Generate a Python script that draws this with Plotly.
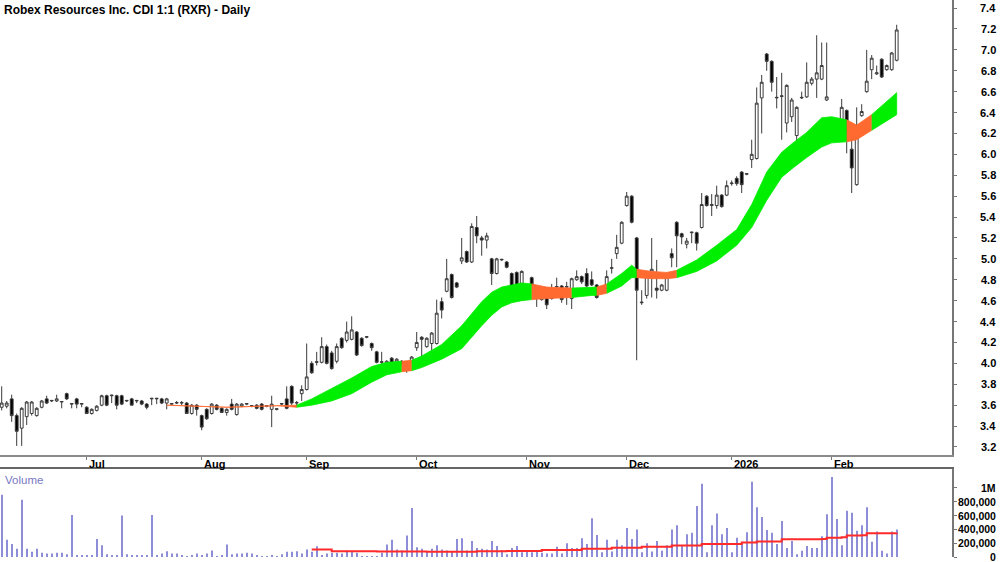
import pandas as pd
import plotly.graph_objects as go

title_text = "Robex Resources Inc. CDI 1:1 (RXR) - Daily"

# trading sessions shown (exchange holidays and one session without a bar skipped)
skipped_days = ["2025-06-09", "2025-10-20", "2025-12-25", "2025-12-26", "2026-01-01", "2026-01-26"]
dates = [d.strftime("%Y-%m-%d") for d in pd.bdate_range("2025-06-05", "2026-02-19")
         if d.strftime("%Y-%m-%d") not in skipped_days]

opens = [3.58,3.59,3.66,3.50,3.38,3.49,3.52,3.50,3.58,3.66,
         3.64,3.64,3.63,3.71,3.61,3.66,3.61,3.58,3.52,3.55,
         3.60,3.69,3.69,3.69,3.69,3.64,3.66,3.64,3.64,3.61,
         3.66,3.66,3.66,3.62,3.61,3.62,3.62,3.62,3.52,3.60,
         3.50,3.56,3.52,3.60,3.57,3.53,3.61,3.51,3.59,3.61,
         3.59,3.60,3.61,3.59,3.56,3.56,3.61,3.66,3.78,3.62,
         3.71,3.75,4.00,4.01,4.01,4.16,4.10,4.02,4.24,4.22,
         4.23,4.30,4.24,4.25,4.19,4.11,4.01,4.00,4.05,4.01,
         4.02,4.00,4.01,4.15,4.25,4.16,4.19,4.19,4.59,4.69,
         4.85,4.77,4.98,5.07,4.97,5.30,5.20,5.18,5.00,4.86,
         4.99,4.97,4.86,4.87,4.75,4.73,4.82,4.63,4.61,4.72,
         4.62,4.73,4.74,4.73,4.62,4.80,4.83,4.86,4.80,4.75,
         4.73,4.72,4.91,5.05,5.15,5.51,5.60,5.20,4.58,4.65,
         4.86,4.72,4.70,4.70,5.05,5.35,5.24,5.14,5.25,5.25,
         5.30,5.60,5.51,5.51,5.61,5.61,5.72,5.77,5.83,5.81,
         5.95,5.96,6.54,6.96,6.89,6.54,6.56,6.30,6.36,6.18,
         6.54,6.55,6.68,6.72,6.72,6.52,6.22,6.22,6.27,6.42,
         6.05,5.71,6.37,6.60,6.81,6.77,6.91,6.81,6.81,6.90]
highs = [3.78,3.64,3.70,3.52,3.58,3.64,3.64,3.58,3.65,3.69,
         3.65,3.70,3.64,3.72,3.62,3.67,3.62,3.59,3.57,3.60,
         3.70,3.70,3.70,3.70,3.70,3.65,3.67,3.65,3.65,3.62,
         3.67,3.67,3.67,3.67,3.62,3.64,3.64,3.63,3.61,3.61,
         3.51,3.57,3.62,3.61,3.58,3.57,3.66,3.62,3.62,3.62,
         3.60,3.61,3.62,3.60,3.69,3.57,3.62,3.78,3.79,3.64,
         3.79,4.19,4.02,4.11,4.25,4.18,4.12,4.19,4.25,4.40,
         4.45,4.31,4.25,4.26,4.20,4.12,4.11,4.03,4.06,4.05,
         4.03,4.01,4.07,4.30,4.26,4.25,4.30,4.61,4.63,5.00,
         4.86,4.78,5.20,5.08,5.34,5.41,5.22,5.25,5.01,5.01,
         5.00,4.98,4.87,4.88,4.89,4.76,4.83,4.64,4.66,4.73,
         4.76,4.82,4.75,4.78,4.82,4.89,4.84,4.91,4.88,4.76,
         4.74,4.89,5.00,5.23,5.36,5.64,5.61,5.21,4.70,4.86,
         5.20,4.99,4.76,4.87,5.10,5.36,5.25,5.20,5.26,5.26,
         5.63,5.61,5.62,5.70,5.62,5.75,5.75,5.79,5.84,5.82,
         6.14,6.64,6.76,6.97,6.90,6.74,6.78,6.67,6.54,6.46,
         6.60,6.88,6.74,7.14,7.07,7.07,6.28,6.32,6.53,6.43,
         6.20,6.45,6.48,7.00,6.95,6.85,6.92,6.86,6.98,7.24]
lows = [3.55,3.57,3.44,3.21,3.21,3.41,3.50,3.49,3.57,3.61,
        3.63,3.63,3.57,3.65,3.57,3.57,3.58,3.52,3.51,3.54,
        3.59,3.59,3.62,3.56,3.60,3.63,3.60,3.62,3.60,3.56,
        3.60,3.61,3.61,3.56,3.60,3.61,3.60,3.52,3.51,3.50,
        3.36,3.46,3.51,3.55,3.53,3.50,3.55,3.50,3.58,3.60,
        3.58,3.56,3.55,3.58,3.39,3.55,3.60,3.56,3.60,3.59,
        3.64,3.74,3.90,3.98,4.00,3.99,3.94,4.00,4.14,4.20,
        4.22,4.07,4.16,4.24,4.12,4.00,3.91,3.99,3.99,4.00,
        3.98,3.91,4.00,4.12,4.05,4.15,4.03,4.18,4.43,4.68,
        4.62,4.72,4.95,4.96,4.96,5.15,5.03,5.10,4.75,4.85,
        4.98,4.91,4.67,4.62,4.74,4.72,4.74,4.54,4.60,4.52,
        4.61,4.72,4.58,4.56,4.52,4.79,4.76,4.73,4.74,4.62,
        4.69,4.71,4.86,5.00,5.14,5.50,5.34,4.03,4.56,4.62,
        4.63,4.62,4.69,4.69,4.92,4.92,5.14,5.10,5.15,5.08,
        5.29,5.50,5.41,5.48,5.49,5.60,5.70,5.70,5.63,5.80,
        5.87,5.95,6.20,6.80,6.60,6.44,6.14,6.21,6.31,6.07,
        6.53,6.54,6.66,6.54,6.71,6.51,6.14,6.15,6.26,6.01,
        5.63,5.70,6.36,6.59,6.72,6.76,6.73,6.80,6.80,6.89]
closes = [3.62,3.62,3.50,3.35,3.57,3.63,3.63,3.57,3.64,3.62,
          3.645,3.66,3.635,3.66,3.615,3.61,3.615,3.52,3.56,3.59,
          3.69,3.60,3.695,3.60,3.61,3.645,3.60,3.645,3.61,3.58,
          3.665,3.665,3.62,3.66,3.615,3.625,3.625,3.52,3.60,3.56,
          3.39,3.47,3.61,3.56,3.53,3.56,3.56,3.61,3.61,3.615,
          3.595,3.57,3.56,3.595,3.61,3.565,3.615,3.57,3.62,3.625,
          3.75,3.87,3.91,4.015,4.16,4.00,3.95,4.16,4.15,4.30,
          4.32,4.08,4.17,4.255,4.15,4.01,4.015,4.02,4.00,4.04,
          3.99,3.94,4.06,4.20,4.23,4.24,4.29,4.48,4.51,4.81,
          4.63,4.73,5.01,4.97,5.31,5.22,5.18,5.22,4.86,5.00,
          4.995,4.92,4.68,4.70,4.88,4.75,4.75,4.635,4.65,4.56,
          4.64,4.735,4.61,4.735,4.81,4.83,4.78,4.74,4.75,4.63,
          4.70,4.83,4.915,5.11,5.35,5.60,5.35,4.70,4.585,4.85,
          4.90,4.70,4.75,4.86,5.01,5.22,5.21,5.17,5.255,5.15,
          5.52,5.51,5.52,5.61,5.50,5.70,5.725,5.72,5.71,5.815,
          6.00,6.49,6.69,6.89,6.69,6.545,6.555,6.66,6.52,6.45,
          6.545,6.69,6.72,6.78,6.85,6.55,6.215,6.215,6.45,6.21,
          5.87,6.26,6.41,6.70,6.92,6.78,6.74,6.85,6.97,7.19]
volumes = [900000,250000,190000,120000,830000,120000,75000,120000,60000,50000,
           50000,60000,60000,40000,610000,30000,30000,30000,30000,260000,
           170000,40000,30000,30000,600000,40000,30000,30000,30000,30000,
           610000,30000,50000,85000,50000,50000,30000,15000,30000,50000,
           30000,50000,95000,15000,30000,180000,40000,50000,50000,60000,
           50000,30000,10000,15000,30000,5000,40000,75000,75000,85000,
           50000,110000,75000,155000,30000,50000,60000,60000,50000,95000,
           75000,60000,15000,5000,15000,15000,60000,180000,250000,110000,
           95000,310000,710000,140000,120000,75000,120000,170000,110000,95000,
           85000,260000,270000,95000,230000,130000,120000,110000,230000,160000,
           100000,40000,130000,160000,70000,80000,70000,80000,60000,50000,
           50000,150000,50000,200000,130000,130000,270000,190000,560000,320000,
           70000,250000,80000,250000,170000,420000,260000,400000,70000,200000,
           80000,230000,90000,170000,400000,460000,170000,330000,350000,740000,
           1060000,70000,460000,630000,330000,420000,70000,280000,210000,360000,
           1090000,720000,580000,390000,350000,190000,520000,130000,230000,40000,
           90000,160000,130000,130000,300000,620000,1160000,550000,170000,670000,
           640000,380000,460000,720000,220000,370000,90000,50000,370000,400000]

# Indicator band (upper / lower edges) read at sample sessions; trend colours the segment that starts there
band_idx = [33,45,55,59,62,66,70,74,77,80,82,84,88,92,96,98,100,102,104,106,109,114,118,119,121,
            124,126,127,130,133,135,139,143,147,150,153,156,158,161,164,166,169,171,174,179]
band_upper = [3.60,3.58,3.595,3.60,3.66,3.76,3.86,3.97,4.01,4.02,4.03,4.07,4.18,4.36,4.59,4.68,4.73,4.75,4.77,4.76,
              4.73,4.72,4.73,4.73,4.76,4.86,4.94,4.90,4.88,4.87,4.89,4.99,5.13,5.28,5.52,5.83,6.02,6.10,6.21,
              6.35,6.36,6.33,6.28,6.38,6.59]
band_lower = [3.60,3.58,3.595,3.58,3.60,3.64,3.71,3.82,3.89,3.92,3.93,3.96,4.04,4.14,4.36,4.46,4.54,4.58,4.60,4.61,
              4.62,4.63,4.65,4.65,4.67,4.74,4.82,4.82,4.81,4.81,4.82,4.88,4.98,5.13,5.30,5.56,5.78,5.86,5.97,
              6.07,6.11,6.12,6.14,6.23,6.38]
band_trend = ["dn","dn","dn","up","up","up","up","up","up","dn","up","up","up","up","up","up","up","up","up","dn",
              "dn","up","up","dn","up","up","up","dn","dn","dn","up","up","up","up","up","up","up","up","up",
              "up","up","dn","dn","up","up"]

vol_ma_idx = [62, 66, 75, 85, 95, 101, 108, 116, 122, 128, 134, 140, 148, 151, 156, 164, 165, 168, 169, 172, 173, 179]
vol_ma = [110000, 85000, 80000, 75000, 85000, 88000, 100000, 118000, 135000, 150000, 165000, 190000,
          210000, 225000, 258000, 262000, 280000, 285000, 310000, 315000, 345000, 350000]

month_tick_dates = ["2025-07-01", "2025-08-01", "2025-09-01", "2025-10-01", "2025-11-03",
                    "2025-12-01", "2026-01-02", "2026-02-02"]
month_tick_labels = ["Jul", "Aug", "Sep", "Oct", "Nov", "Dec", "2026", "Feb"]

price_ticks = [3.2, 3.4, 3.6, 3.8, 4.0, 4.2, 4.4, 4.6, 4.8, 5.0, 5.2, 5.4, 5.6, 5.8,
               6.0, 6.2, 6.4, 6.6, 6.8, 7.0, 7.2, 7.4]
vol_ticks = [0, 200000, 400000, 600000, 800000, 1000000]
vol_tick_labels = ["0", "200,000", "400,000", "600,000", "800,000", "1M"]

GREEN = "#00ee00"
ORANGE = "#ff6a30"
FONT = "Liberation Sans, Arial, sans-serif"
PLOT_W = 952.0          # plot area width in px (right margin holds the axis labels)
LABEL_RIGHT = 998.0     # right edge of axis labels in px

fig = go.Figure()

# band polygons
runs = []
start = 0
for i in range(1, len(band_idx)):
    if band_trend[i] != band_trend[start] or i == len(band_idx) - 1:
        runs.append((start, i, band_trend[start]))
        start = i
for s, e, tr in runs:
    xs = [dates[band_idx[j]] for j in range(s, e + 1)]
    up = band_upper[s:e + 1]
    lo = band_lower[s:e + 1]
    col = GREEN if tr == "up" else ORANGE
    fig.add_trace(go.Scatter(x=xs + xs[::-1], y=up + lo[::-1], mode="lines", fill="toself",
                             fillcolor=col, line=dict(color=col, width=0.8),
                             xaxis="x", yaxis="y", hoverinfo="skip", showlegend=False))

fig.add_trace(go.Candlestick(
    x=dates, open=opens, high=highs, low=lows, close=closes,
    increasing=dict(fillcolor="white", line=dict(color="#3a3a3a", width=1)),
    decreasing=dict(fillcolor="black", line=dict(color="#3a3a3a", width=1)),
    whiskerwidth=0, xaxis="x", yaxis="y", showlegend=False))

fig.add_trace(go.Bar(x=dates, y=volumes, width=0.24, marker=dict(color="#8e8ed8", line=dict(width=0)),
                     xaxis="x2", yaxis="y2", showlegend=False))
fig.add_trace(go.Scatter(x=[dates[i] for i in vol_ma_idx], y=vol_ma, mode="lines", line_shape="hv",
                         line=dict(color="#ff2a2a", width=2), xaxis="x2", yaxis="y2", showlegend=False))

ann = [dict(text="<b>" + title_text + "</b>", xref="paper", yref="paper", x=0.002, y=1.0,
            xanchor="left", yanchor="top", yshift=-1, showarrow=False,
            font=dict(family=FONT, size=12, color="black")),
       dict(text="Volume", xref="paper", yref="paper", x=0.003, y=0.158, xanchor="left",
            yanchor="top", yshift=-3, showarrow=False, font=dict(family=FONT, size=11.5, color="#7878c4"))]
for v, t in zip(vol_ticks, vol_tick_labels):
    ann.append(dict(text="<b>" + t + "</b>", xref="paper", yref="y2", x=LABEL_RIGHT / PLOT_W, y=v,
                    xanchor="right", yanchor="middle", showarrow=False,
                    font=dict(family=FONT, size=10.5, color="black")))
for v in price_ticks:
    ann.append(dict(text="<b>%.1f</b>" % v, xref="paper", yref="y", x=LABEL_RIGHT / PLOT_W, y=v,
                    xanchor="right", yanchor="middle", showarrow=False,
                    font=dict(family=FONT, size=11, color="black")))
for d, t in zip(month_tick_dates, month_tick_labels):
    ann.append(dict(text="<b>" + t + "</b>", xref="x", yref="paper", x=d, y=0.1831,
                    xanchor="left", yanchor="top", xshift=0, yshift=-1, showarrow=False,
                    font=dict(family=FONT, size=11, color="black")))

fig.update_layout(
    width=1000, height=562, margin=dict(l=0, r=48, t=0, b=5),
    paper_bgcolor="white", plot_bgcolor="white", boxgap=0.2,
    showlegend=False, annotations=ann,
    xaxis=dict(domain=[0, 1], anchor="y", type="category", categoryorder="array", categoryarray=dates,
               range=[-0.34, 190.06], tickmode="array", tickvals=month_tick_dates,
               showticklabels=False, showline=True, linecolor="#8a8a8a", linewidth=2,
               ticks="outside", ticklen=3, tickcolor="#777", showgrid=False, zeroline=False,
               rangeslider=dict(visible=False)),
    xaxis2=dict(domain=[0, 1], anchor="y2", matches="x", type="category", showticklabels=False,
                showline=True, side="top", linecolor="#666", linewidth=1.5, showgrid=False, ticks=""),
    yaxis=dict(domain=[0.1831, 1], anchor="x", side="right", range=[3.123, 7.477], tickmode="array",
               tickvals=price_ticks, showticklabels=False, ticks="outside", ticklen=3,
               tickcolor="#777", showline=True, linecolor="#777", linewidth=1.5, showgrid=False,
               zeroline=False),
    yaxis2=dict(domain=[0, 0.158], anchor="x2", side="right", range=[0, 1275000], tickmode="array",
                tickvals=vol_ticks, showticklabels=False, ticks="outside", ticklen=3, tickcolor="#777",
                showline=True, linecolor="#777", linewidth=1.5, showgrid=False, zeroline=False),
)

fig.write_html("out.html")
